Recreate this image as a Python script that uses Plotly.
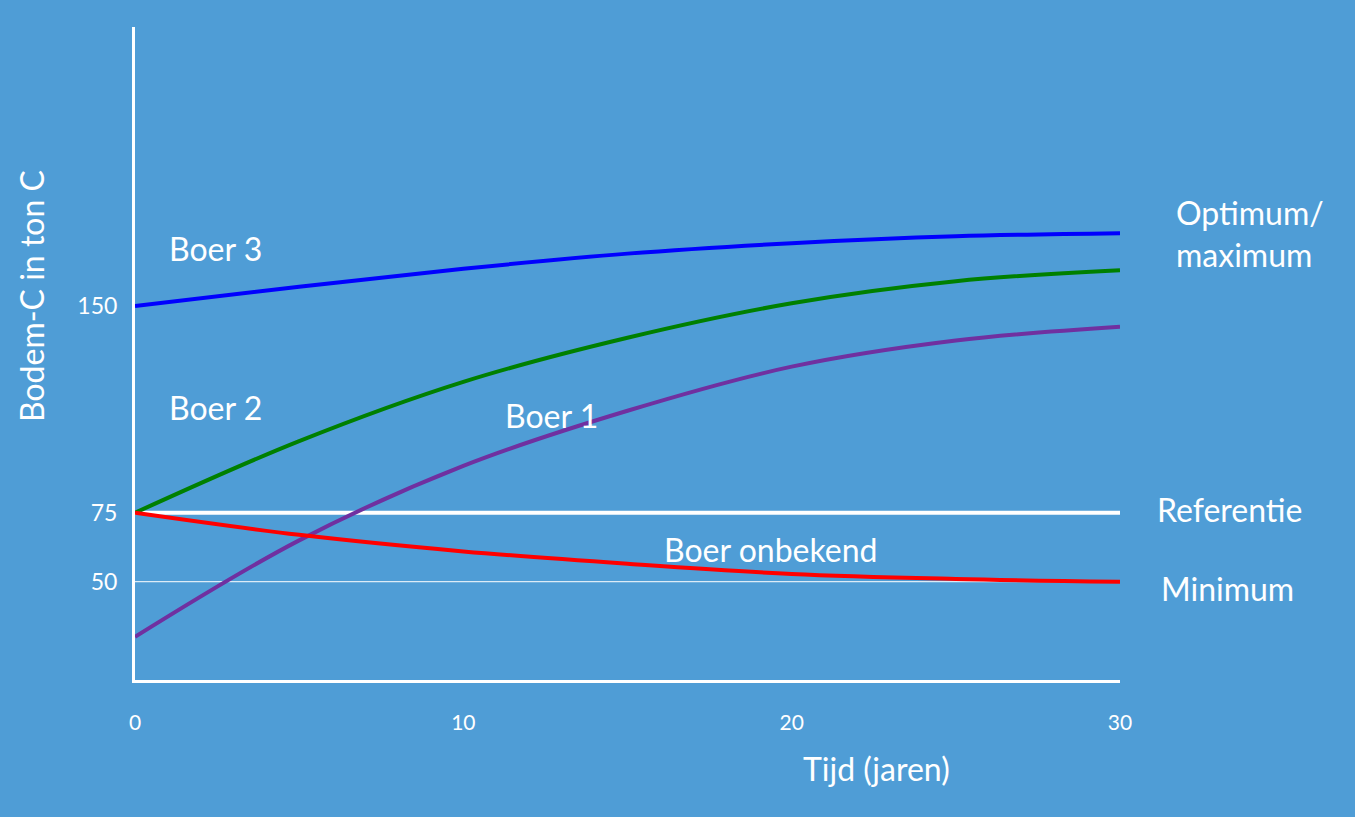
import plotly.graph_objects as go

# Data (years, Bodem-C in ton C)
years = [0, 5, 10, 15, 20, 25, 30]
boer3 = [150, 157.0, 163.5, 169.0, 172.8, 175.3, 176.4]
boer2 = [75, 101.0, 122.5, 138.5, 151.0, 159.0, 163.0]
boer1 = [30, 65.0, 92.0, 112.0, 128.0, 137.5, 142.5]
onbekend = [75, 67.0, 61.0, 56.5, 52.8, 51.0, 50.0]

ref_x = [0, 30]
referentie = [75, 75]
minimum = [50, 50]

x_ticks = [0, 10, 20, 30]
y_ticks = [50, 75, 150]

BG = "#4F9DD6"
FONT = "Lato"

W, H = 1355, 817
L, R, T, B = 135, 1120, 27, 680


def px(x):
    return (x - L) / (R - L)


def py(y):
    return (B - y) / (B - T)


fig = go.Figure()
fig.add_trace(go.Scatter(x=ref_x, y=referentie, mode="lines",
                         line=dict(color="white", width=4)))
fig.add_trace(go.Scatter(x=ref_x, y=minimum, mode="lines",
                         line=dict(color="white", width=1)))
for ys, col in [(boer3, "#0000FF"), (boer2, "#008000"),
                (boer1, "#7030A0"), (onbekend, "#FF0000")]:
    fig.add_trace(go.Scatter(x=years, y=ys, mode="lines",
                             line=dict(color=col, width=4, shape="spline", smoothing=1)))

labels = [
    ("Boer 3", 215, 248, "center"),
    ("Boer 2", 215, 408, "center"),
    ("Boer 1", 551, 415, "center"),
    ("Boer onbekend", 771, 549, "center"),
    ("Optimum/<br>maximum", 1174, 233, "left"),
    ("Referentie", 1155, 509, "left"),
    ("Minimum", 1159, 588, "left"),
    ("Tijd (jaren)", 876, 768, "center"),
]
for text, x, y, anc in labels:
    fig.add_annotation(text=text, x=px(x), y=py(y), xref="paper", yref="paper",
                       xanchor=anc, yanchor="middle", showarrow=False, align="left",
                       font=dict(family=FONT, size=32, color="white"))
fig.add_annotation(text="Bodem-C in ton C", x=px(32), y=py(296), xref="paper", yref="paper",
                   xanchor="center", yanchor="middle", showarrow=False, textangle=-90,
                   font=dict(family=FONT, size=32, color="white"))

fig.update_layout(
    width=W, height=H,
    margin=dict(l=L, r=W - R, t=T, b=H - B),
    paper_bgcolor=BG, plot_bgcolor=BG,
    showlegend=False, hovermode=False,
    xaxis=dict(range=[0, 30], tickvals=x_ticks, showgrid=False, zeroline=False,
               showline=True, linecolor="white", linewidth=3, ticks="",
               ticklabelstandoff=22, tickfont=dict(family=FONT, size=21, color="white")),
    yaxis=dict(range=[14.35, 251.2], tickvals=y_ticks, showgrid=False, zeroline=False,
               showline=True, linecolor="white", linewidth=3, ticks="",
               ticklabelstandoff=10, tickfont=dict(family=FONT, size=23, color="white")),
)

fig.write_html("out.html")
